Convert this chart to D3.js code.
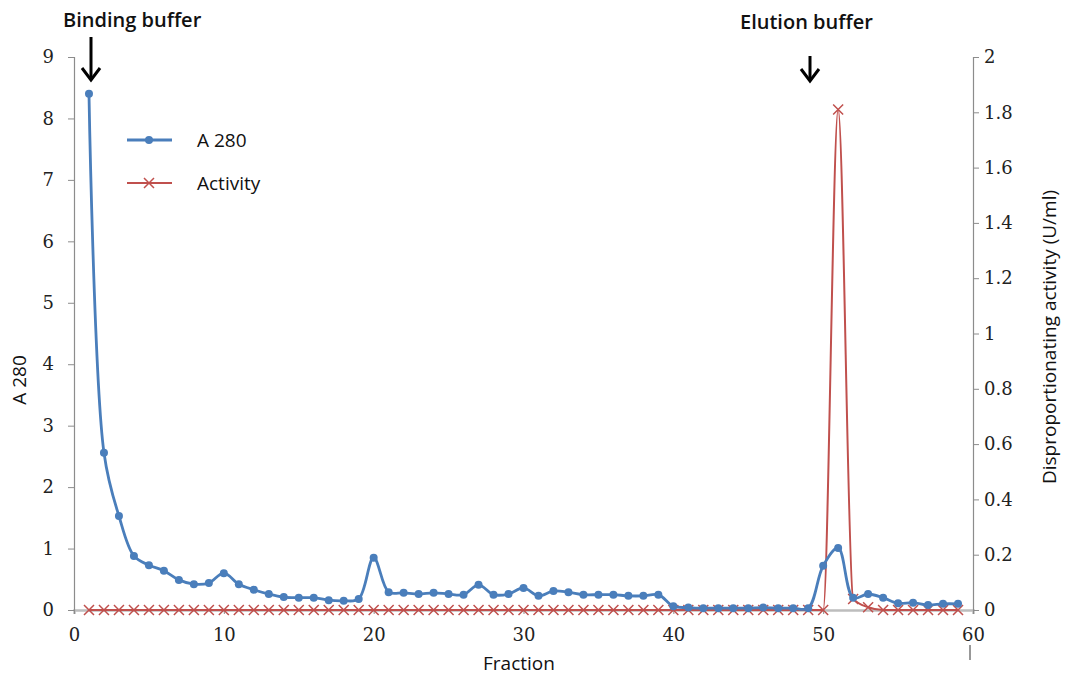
<!DOCTYPE html>
<html>
<head>
<meta charset="utf-8">
<script src="https://cdn.jsdelivr.net/npm/d3@7"></script>
<style>
  body { margin: 0; background: #fff; }
  .tick text { font-family: "DejaVu Serif", serif; font-size: 18px; fill: #222; }
  .lbl { font-family: "Open Sans", sans-serif; fill: #111; }
</style>
</head>
<body>
<svg id="chart" width="1069" height="677"></svg>
<script>
// fractions collected from the column
var fractions = d3.range(1, 60);

// absorbance at 280 nm, one value per fraction (1..59)
var a280 = [
  8.4, 2.56, 1.53, 0.88, 0.73, 0.64, 0.49, 0.42, 0.44, 0.6,
  0.42, 0.33, 0.26, 0.21, 0.2, 0.2, 0.16, 0.15, 0.18, 0.85,
  0.29, 0.28, 0.26, 0.28, 0.26, 0.25, 0.41, 0.25, 0.26, 0.36,
  0.23, 0.31, 0.29, 0.25, 0.25, 0.25, 0.23, 0.23, 0.25, 0.06,
  0.04, 0.03, 0.03, 0.03, 0.03, 0.04, 0.03, 0.03, 0.03, 0.72,
  1.01, 0.2, 0.26, 0.2, 0.11, 0.12, 0.08, 0.1, 0.1
];

// disproportionating activity (U/ml)
var activity = [
  0, 0, 0, 0, 0, 0, 0, 0, 0, 0,
  0, 0, 0, 0, 0, 0, 0, 0, 0, 0,
  0, 0, 0, 0, 0, 0, 0, 0, 0, 0,
  0, 0, 0, 0, 0, 0, 0, 0, 0, 0,
  0, 0, 0, 0, 0, 0, 0, 0, 0, 0,
  1.81, 0.04, 0.01, 0, 0, 0, 0, 0, 0
];

var xTicks = [0, 10, 20, 30, 40, 50, 60];
var leftTicks = [0, 1, 2, 3, 4, 5, 6, 7, 8, 9];
var rightTicks = [0, 0.2, 0.4, 0.6, 0.8, 1, 1.2, 1.4, 1.6, 1.8, 2];

var blue = "#4a7ebb", red = "#c0504d", axisCol = "#8c8c8c";

var svg = d3.select("#chart");
var plotL = 74, plotR = 973, plotT = 57, plotB = 610;

var x = d3.scaleLinear().domain([0, 60]).range([plotL, plotR]);
var yL = d3.scaleLinear().domain([0, 9]).range([plotB, plotT]);
var yR = d3.scaleLinear().domain([0, 2]).range([plotB, plotT]);

// axes
var gx = svg.append("g").attr("transform", "translate(0," + plotB + ")")
    .call(d3.axisBottom(x).tickValues(xTicks).tickFormat(d3.format("d")).tickSizeOuter(0).tickSize(4).tickPadding(14));
gx.select(".domain").attr("stroke", "#bdbdbd").attr("stroke-width", 2.5);
gx.selectAll(".tick line").attr("stroke", axisCol);

var gl = svg.append("g").attr("transform", "translate(" + plotL + ",0)")
    .call(d3.axisLeft(yL).tickValues(leftTicks).tickFormat(d3.format("d")).tickSizeOuter(0).tickSize(6).tickPadding(14));
gl.select(".domain").attr("stroke", axisCol).attr("stroke-width", 1.2);
gl.selectAll(".tick line").attr("stroke", axisCol);

var gr = svg.append("g").attr("transform", "translate(" + plotR + ",0)")
    .call(d3.axisRight(yR).tickValues(rightTicks).tickFormat(d3.format("~g")).tickSizeOuter(0).tickSize(6).tickPadding(5));
gr.select(".domain").attr("stroke", axisCol).attr("stroke-width", 1.2);
gr.selectAll(".tick line").attr("stroke", axisCol);

svg.selectAll(".tick text").attr("dy", "0.32em");
gx.selectAll(".tick text").attr("dy", "0.71em");

// small stray mark under the 60 label
svg.append("line").attr("x1", 970).attr("x2", 970).attr("y1", 645).attr("y2", 660)
    .attr("stroke", "#333").attr("stroke-width", 1);

// axis titles
svg.append("text").attr("class", "lbl").attr("x", 519).attr("y", 670)
    .attr("text-anchor", "middle").attr("font-size", 19).text("Fraction");
svg.append("text").attr("class", "lbl").attr("transform", "translate(26,380) rotate(-90)")
    .attr("text-anchor", "middle").attr("font-size", 19).text("A 280");
svg.append("text").attr("class", "lbl").attr("transform", "translate(1056,337) rotate(-90)")
    .attr("text-anchor", "middle").attr("font-size", 19).text("Disproportionating activity (U/ml)");

// lines
var lineA = d3.line().x(function(d, i) { return x(fractions[i]); })
    .y(function(d) { return yL(d); }).curve(d3.curveCatmullRom.alpha(0.5));
var lineB = d3.line().x(function(d, i) { return x(fractions[i]); })
    .y(function(d) { return yR(d); }).curve(d3.curveMonotoneX);

svg.append("path").datum(activity).attr("d", lineB)
    .attr("fill", "none").attr("stroke", red).attr("stroke-width", 2);

svg.append("g").selectAll("path")
    .data(activity).enter().append("path")
    .attr("d", function(d, i) {
        var cx = x(fractions[i]), cy = yR(d), s = 5;
        return "M" + (cx - s) + "," + (cy - s) + "L" + (cx + s) + "," + (cy + s) +
               "M" + (cx - s) + "," + (cy + s) + "L" + (cx + s) + "," + (cy - s);
    })
    .attr("stroke", red).attr("stroke-width", 1.5).attr("fill", "none");

svg.append("path").datum(a280).attr("d", lineA)
    .attr("fill", "none").attr("stroke", blue).attr("stroke-width", 2.8);

svg.append("g").selectAll("circle")
    .data(a280).enter().append("circle")
    .attr("cx", function(d, i) { return x(fractions[i]); })
    .attr("cy", function(d) { return yL(d); })
    .attr("r", 4).attr("fill", blue);

// legend
var legend = svg.append("g");
legend.append("line").attr("x1", 127).attr("x2", 172).attr("y1", 140).attr("y2", 140)
    .attr("stroke", blue).attr("stroke-width", 2.8);
legend.append("circle").attr("cx", 149).attr("cy", 140).attr("r", 4).attr("fill", blue);
legend.append("text").attr("class", "lbl").attr("x", 197).attr("y", 147)
    .attr("font-size", 19).text("A 280");
legend.append("line").attr("x1", 127).attr("x2", 172).attr("y1", 183).attr("y2", 183)
    .attr("stroke", red).attr("stroke-width", 2);
legend.append("path").attr("d", "M144,178L154,188M144,188L154,178")
    .attr("stroke", red).attr("stroke-width", 1.5);
legend.append("text").attr("class", "lbl").attr("x", 197).attr("y", 190)
    .attr("font-size", 19).text("Activity");

// buffer annotations
function arrow(xp, y1, y2) {
    svg.append("line").attr("x1", xp).attr("x2", xp).attr("y1", y1).attr("y2", y2 - 2)
        .attr("stroke", "#000").attr("stroke-width", 3);
    svg.append("path")
        .attr("d", "M" + (xp - 9) + "," + (y2 - 12) + "L" + xp + "," + y2 + "L" + (xp + 9) + "," + (y2 - 12))
        .attr("fill", "none").attr("stroke", "#000").attr("stroke-width", 3);
}
svg.append("text").attr("class", "lbl").attr("x", 63).attr("y", 27)
    .attr("font-size", 20).attr("font-weight", 600).text("Binding buffer");
arrow(91, 37, 80);
svg.append("text").attr("class", "lbl").attr("x", 740).attr("y", 29)
    .attr("font-size", 20).attr("font-weight", 600).text("Elution buffer");
arrow(810, 56, 81);
</script>
</body>
</html>
